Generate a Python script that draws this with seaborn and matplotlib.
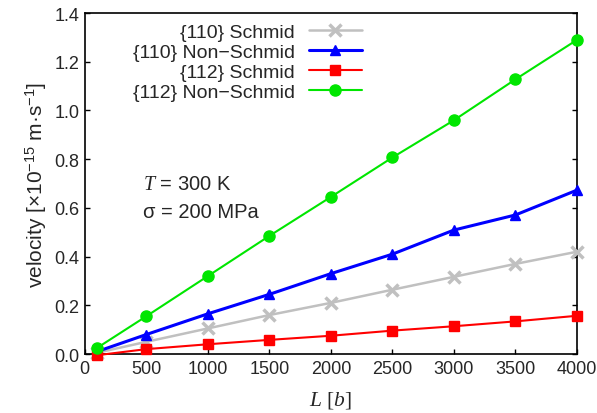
import numpy as np
import matplotlib
matplotlib.use('Agg')
import matplotlib.pyplot as plt
import pandas as pd
import seaborn as sns

# chain length L in units of b
L = [100, 500, 1000, 1500, 2000, 2500, 3000, 3500, 4000]

# velocities (x1e-15 m/s)
v110_schmid = [0.005, 0.05, 0.105, 0.16, 0.21, 0.264, 0.317, 0.37, 0.42]
v110_nonschmid = [0.01, 0.08, 0.165, 0.245, 0.33, 0.41, 0.509, 0.571, 0.673]
v112_schmid = [-0.005, 0.02, 0.04, 0.058, 0.075, 0.096, 0.114, 0.134, 0.157]
v112_nonschmid = [0.025, 0.155, 0.32, 0.485, 0.645, 0.807, 0.96, 1.128, 1.29]

labels = ['{110} Schmid', '{110} Non\u2212Schmid', '{112} Schmid', '{112} Non\u2212Schmid']
series = [v110_schmid, v110_nonschmid, v112_schmid, v112_nonschmid]
colors = ['#c0c0c0', '#0000ff', '#ff0000', '#00e600']
markers = ['x', '^', 's', 'o']
msizes = [8, 6.5, 7.5, 8]
widths = [1.8, 2.2, 1.5, 1.5]

sns.set_theme(style='ticks')
plt.rcParams['font.family'] = ['Liberation Sans', 'DejaVu Sans']
# sans digits for superscripts, serif italic for symbols like T, L, b
plt.rcParams['mathtext.fontset'] = 'custom'
plt.rcParams['mathtext.rm'] = 'Liberation Sans'
plt.rcParams['mathtext.sf'] = 'Liberation Sans'
plt.rcParams['mathtext.it'] = 'Liberation Serif:italic'
plt.rcParams['xtick.direction'] = 'in'
plt.rcParams['ytick.direction'] = 'in'

fig = plt.figure(figsize=(5.97, 4.14), dpi=100)
ax = fig.add_axes([0.142, 0.1425, 0.8245, 0.8235])

for vals, lab, c, m, ms, lw in zip(series, labels, colors, markers, msizes, widths):
    df = pd.DataFrame({'L': L, 'v': vals})
    sns.lineplot(data=df, x='L', y='v', ax=ax, color=c, marker=m, markersize=ms,
                 markeredgecolor=c, markeredgewidth=2.5 if m == 'x' else 1,
                 linewidth=lw, label=lab, clip_on=False, zorder=3)

ax.set_xlim(0, 4000)
ax.set_ylim(0, 1.4)
ax.set_xticks(np.arange(0, 4001, 500))
ax.set_yticks(np.arange(0, 1.41, 0.2))
ax.set_yticklabels(['%.1f' % t for t in np.arange(0, 1.41, 0.2)])
ax.tick_params(axis='both', labelsize=13, length=3.5, width=1, color='black', pad=4)
ax.tick_params(axis='y', right=True)
for s in ax.spines.values():
    s.set_linewidth(1.2)
    s.set_color('black')
    s.set_visible(True)

ax.set_xlabel(r'$L$ [$b$]', fontsize=15.5, labelpad=9, family='Liberation Serif')
ax.set_ylabel('velocity [\u00d710$^{-15}$ m\u00b7s$^{-1}$]', fontsize=15, labelpad=4)

ax.text(470, 0.70, r'$T$ = 300 K', fontsize=14.5, va='center')
ax.text(470, 0.587, '\u03c3 = 200 MPa', fontsize=14.5, va='center')

leg = ax.legend(loc='upper right', bbox_to_anchor=(0.579, 0.992), frameon=False,
                markerfirst=False, handlelength=2.75, labelspacing=0.12,
                fontsize=14, borderaxespad=0, handletextpad=0.72)
for t in leg.get_texts():
    t.set_ha('right')
leg._legend_box.align = 'right'

fig.savefig('out.png', dpi=100)
